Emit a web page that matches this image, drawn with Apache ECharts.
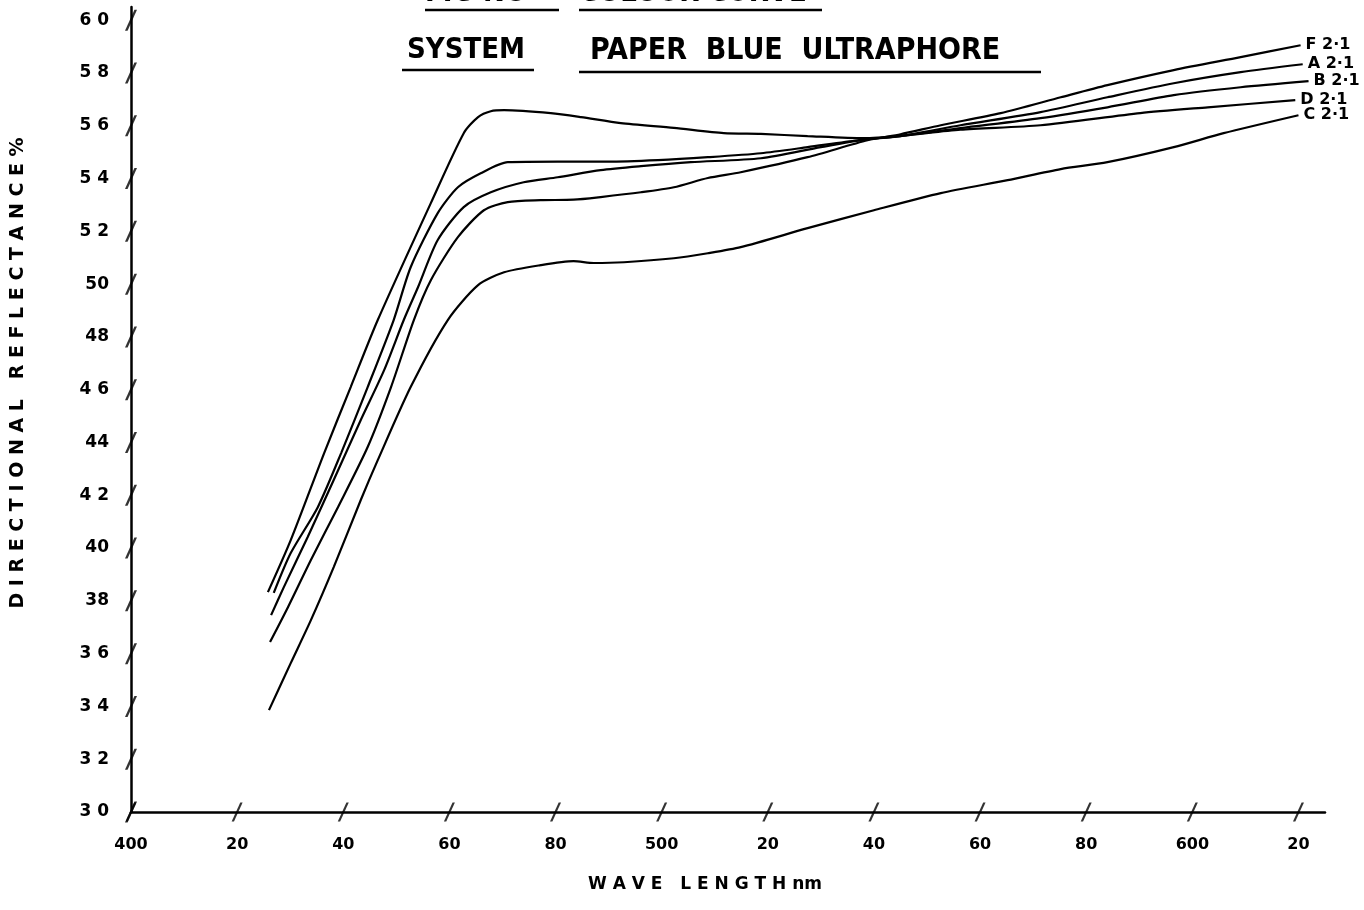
<!DOCTYPE html>
<html>
<head>
<meta charset="utf-8">
<script src="https://cdn.jsdelivr.net/npm/echarts@6/dist/echarts.min.js"></script>
<style>
  html, body { margin: 0; padding: 0; background: #fff; }
  #chart { width: 1364px; height: 910px; }
</style>
</head>
<body>
<div id="chart"></div>
<script>
// ---- data (wavelength nm, reflectance %) ----
const xTickValues = [400, 420, 440, 460, 480, 500, 520, 540, 560, 580, 600, 620];
const xTickLabels = ["400", "20", "40", "60", "80", "500", "20", "40", "60", "80", "600", "20"];
const yTickValues = [30, 32, 34, 36, 38, 40, 42, 44, 46, 48, 50, 52, 54, 56, 58, 60];
const yTickLabels = ["3 0", "3 2", "3 4", "3 6", "38", "40", "4 2", "44", "4 6", "48", "50", "5 2", "5 4", "5 6", "5 8", "6 0"];

const seriesF = [
  [426.2, 36.44], [429.6, 37.77], [433.9, 39.55], [439.0, 41.55], [444.6, 43.83],
  [449.0, 46.10], [453.3, 48.64], [456.5, 50.15], [461.6, 51.78], [466.5, 52.80],
  [471.0, 53.11], [477.2, 53.18], [483.4, 53.20], [488.5, 53.30], [496.1, 53.48],
  [502.3, 53.67], [508.7, 54.02], [514.9, 54.24], [527.5, 54.81], [538.8, 55.45],
  [545.0, 55.68], [552.6, 56.02], [563.9, 56.48], [575.2, 57.08], [584.0, 57.54],
  [596.5, 58.11], [609.1, 58.60], [620.4, 59.05]
];
const seriesA = [
  [426.4, 37.46], [428.8, 38.52], [433.3, 40.42], [438.2, 42.58], [443.3, 44.85],
  [447.7, 46.74], [451.4, 48.64], [454.1, 49.89], [457.8, 51.67], [462.7, 52.92],
  [467.8, 53.48], [474.0, 53.86], [480.4, 54.05], [488.5, 54.32], [496.1, 54.47],
  [505.5, 54.62], [518.7, 54.77], [530.0, 55.19], [538.8, 55.49], [545.0, 55.61],
  [556.3, 56.02], [571.4, 56.52], [584.0, 57.08], [596.5, 57.61], [609.1, 58.03],
  [620.8, 58.33]
];
const seriesB = [
  [426.9, 38.30], [430.1, 39.81], [435.2, 41.55], [439.6, 43.60], [444.6, 46.10],
  [449.5, 48.64], [452.7, 50.64], [457.8, 52.69], [461.6, 53.67], [465.9, 54.20],
  [471.0, 54.62], [480.4, 54.64], [489.8, 54.64], [499.3, 54.70], [508.7, 54.81],
  [518.7, 54.96], [527.5, 55.19], [536.9, 55.45], [545.0, 55.61], [556.3, 55.91],
  [571.4, 56.29], [584.0, 56.70], [596.5, 57.16], [609.1, 57.46], [621.9, 57.69]
];
const seriesD = [
  [425.8, 38.33], [430.1, 40.30], [436.4, 43.60], [441.4, 46.10], [446.5, 48.64],
  [456.5, 53.07], [462.7, 55.72], [465.4, 56.33], [467.8, 56.55], [470.3, 56.59],
  [479.1, 56.48], [484.8, 56.33], [492.3, 56.10], [502.3, 55.92], [511.7, 55.72],
  [518.7, 55.69], [527.5, 55.61], [538.1, 55.53], [545.0, 55.62], [556.3, 55.85],
  [571.4, 56.02], [590.2, 56.48], [602.9, 56.70], [619.4, 56.97]
];
const seriesC = [
  [426.0, 33.86], [430.1, 35.64], [433.9, 37.27], [438.2, 39.28], [443.3, 41.82],
  [446.5, 43.33], [452.7, 46.10], [459.7, 48.64], [465.4, 49.96], [470.3, 50.45],
  [477.2, 50.72], [483.4, 50.87], [487.2, 50.80], [492.9, 50.83], [502.3, 50.98],
  [508.7, 51.17], [514.9, 51.40], [527.5, 52.12], [540.0, 52.80], [552.6, 53.45],
  [565.2, 53.94], [575.2, 54.36], [584.0, 54.62], [596.5, 55.19], [605.9, 55.72],
  [620.0, 56.40]
];
const seriesNames = ["F 2·1", "A 2·1", "B 2·1", "D 2·1", "C 2·1"];

const FONT = '"DejaVu Sans", sans-serif';
const TITLE_FONT = '"DejaVu Sans Condensed", "DejaVu Sans", sans-serif';

function lineSeries(name, data) {
  return {
    name: name,
    type: 'line',
    data: data,
    smooth: 0.25,
    showSymbol: false,
    symbol: 'none',
    clip: false,
    lineStyle: { color: '#000', width: 2.2 },
    endLabel: {
      show: true,
      formatter: name,
      distance: 5,
      color: '#000',
      fontFamily: FONT,
      fontWeight: 'bold',
      fontSize: 16
    },
    emphasis: { disabled: true },
    z: 3
  };
}

const slash = 'path://M0,20 L3,20 L14,0 L11,0 Z';

const chart = echarts.init(document.getElementById('chart'), null, { renderer: 'canvas' });
chart.setOption({
  backgroundColor: '#ffffff',
  animation: false,
  grid: { left: 131, right: 39, top: 7, bottom: 98 },
  xAxis: {
    type: 'value',
    min: 400,
    max: 625,
    interval: 20,
    axisLine: { show: true, lineStyle: { color: '#000', width: 2.5 } },
    axisTick: { show: false },
    splitLine: { show: false },
    axisLabel: {
      margin: 25,
      color: '#000',
      fontFamily: FONT,
      fontWeight: 'bold',
      fontSize: 16,
      formatter: function (v) {
        const i = xTickValues.indexOf(v);
        return i >= 0 ? xTickLabels[i] : '';
      }
    }
  },
  yAxis: {
    type: 'value',
    min: 30,
    max: 60.5,
    interval: 2,
    axisLine: { show: true, lineStyle: { color: '#000', width: 2.5 } },
    axisTick: { show: false },
    splitLine: { show: false },
    axisLabel: {
      margin: 22,
      color: '#000',
      fontFamily: FONT,
      fontWeight: 'bold',
      fontSize: 17,
      formatter: function (v) {
        const i = yTickValues.indexOf(v);
        return i >= 0 ? yTickLabels[i] : '';
      }
    }
  },
  series: [
    lineSeries(seriesNames[0], seriesF),
    lineSeries(seriesNames[1], seriesA),
    lineSeries(seriesNames[2], seriesB),
    lineSeries(seriesNames[3], seriesD),
    lineSeries(seriesNames[4], seriesC),
    {
      name: 'x ticks', type: 'scatter', silent: true, clip: false,
      symbol: slash, symbolSize: [11, 19],
      itemStyle: { color: '#000' },
      data: xTickValues.map(v => [v, 30]), z: 4
    },
    {
      name: 'y ticks', type: 'scatter', silent: true, clip: false,
      symbol: slash, symbolSize: [12, 21],
      itemStyle: { color: '#000' },
      data: yTickValues.map(v => [400, v]), z: 4
    }
  ],
  graphic: [
    // top title (cut off by the page edge in the reference)
    { type: 'text', left: 425, top: -21, style: { text: 'FIG NO', font: 'bold 29px ' + TITLE_FONT, fill: '#000' } },
    { type: 'text', left: 579, top: -21, style: { text: 'COLOUR CURVE', font: 'bold 29px ' + TITLE_FONT, fill: '#000' } },
    { type: 'line', shape: { x1: 425, y1: 10, x2: 559, y2: 10 }, style: { stroke: '#000', lineWidth: 2.5 } },
    { type: 'line', shape: { x1: 579, y1: 10, x2: 822, y2: 10 }, style: { stroke: '#000', lineWidth: 2.5 } },
    // second title line
    { type: 'text', left: 407, top: 36, style: { text: 'SYSTEM', font: 'bold 29px ' + TITLE_FONT, fill: '#000' } },
    { type: 'text', left: 590, top: 36, style: { text: 'PAPER  BLUE  ULTRAPHORE', font: 'bold 30px ' + TITLE_FONT, fill: '#000' } },
    { type: 'line', shape: { x1: 402, y1: 70, x2: 534, y2: 70 }, style: { stroke: '#000', lineWidth: 2.5 } },
    { type: 'line', shape: { x1: 579, y1: 72, x2: 1041, y2: 72 }, style: { stroke: '#000', lineWidth: 2.5 } },
    // axis titles
    {
      type: 'text', x: 18, y: 373, rotation: Math.PI / 2,
      style: {
        text: 'D I R E C T I O N A L   R E F L E C T A N C E %',
        font: 'bold 19px ' + FONT, fill: '#000', align: 'center', verticalAlign: 'middle'
      }
    },
    {
      type: 'text', x: 705, y: 885,
      style: {
        text: 'W A V E   L E N G T H nm',
        font: 'bold 17px ' + FONT, fill: '#000', align: 'center', verticalAlign: 'middle'
      }
    }
  ]
});
</script>
</body>
</html>
